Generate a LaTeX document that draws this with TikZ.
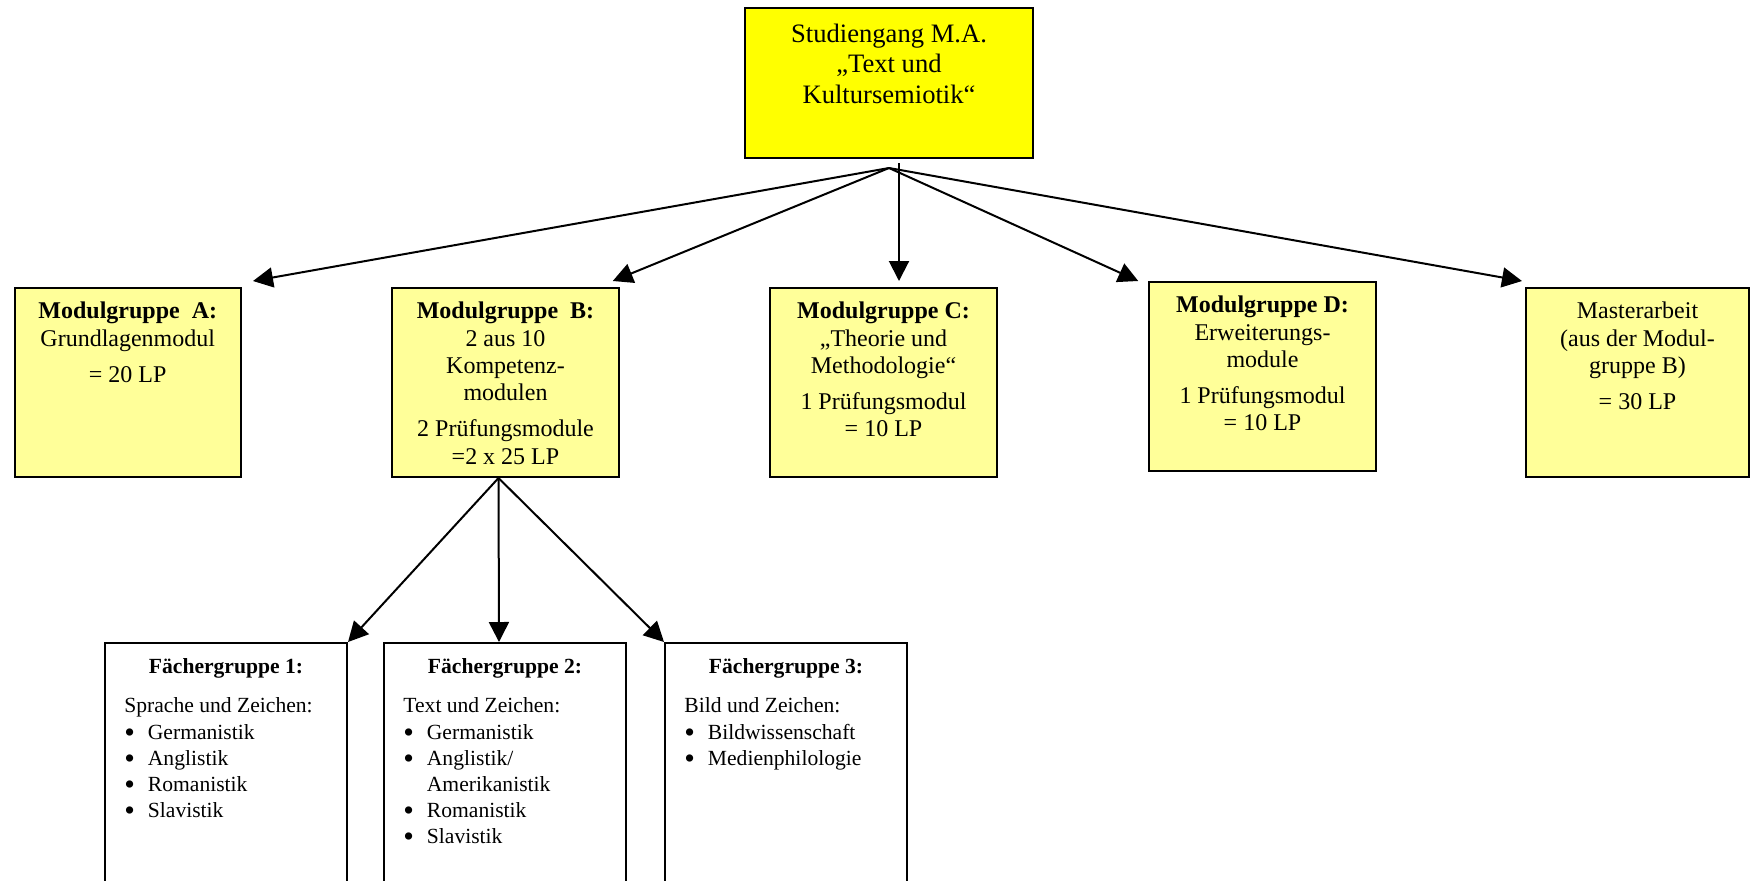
\documentclass[tikz,border=0pt]{standalone}
\usepackage{fontspec}
\setmainfont{Liberation Serif}
\usepackage{tikz}
\usetikzlibrary{arrows.meta,calc}
\definecolor{TopYellow}{HTML}{FFFF00}
\definecolor{ModYellow}{HTML}{FFFF99}
\newcommand{\fgbullet}{\makebox[11.75pt][l]{\raisebox{-0.14em}{\scalebox{1.4}{\textbullet}}}}
\newcommand{\fgindent}{\hspace*{11.75pt}}

\tikzset{
	box/.style={draw,line width=1pt,inner sep=0pt},
	modul/.style={box,fill=ModYellow,minimum width=113.25pt,minimum height=94.5pt},
	fach/.style={box,fill=white,minimum width=121pt,minimum height=150pt,anchor=north},
	txt/.style={anchor=north,align=center,inner sep=0pt,font=\fontsize{12}{13.65}\selectfont,
		execute at begin node={\rule{0pt}{9pt}}},
	smalltxt/.style={anchor=base,align=center,inner sep=0pt,font=\fontsize{10.8}{13.1}\selectfont},
	liste/.style={anchor=north west,align=left,inner sep=0pt,font=\fontsize{10.8}{13.1}\selectfont,
		execute at begin node={\rule{0pt}{9pt}}},
	pfeil/.style={-{Triangle[length=10pt,width=10pt]},line width=1pt}
}

\begin{document}
\begin{tikzpicture}[x=0.5pt,y=-0.5pt]
	\useasboundingbox (0,0) rectangle (1751,880);
	\clip (0,0) rectangle (1751,880);
	\node[box,fill=TopYellow,minimum width=144pt,minimum height=75pt] (S) at (889,83) {};
	\node[modul] (A) at (127.75,382.5) {};
	\node[modul] (B) at (505.5,382.5) {};
	\node[modul] (C) at (883.5,382.5) {};
	\node[modul] (D) at (1262.5,376.5) {};
	\node[modul,minimum width=111.5pt] (M) at (1637.5,382.5) {};
	\node[fach] (F1) at (226,642) {};
	\node[fach] (F2) at (505,642) {};
	\node[fach] (F3) at (786,642) {};

	\node[txt,font=\fontsize{13.3}{15.25}\selectfont] (S-t) at ($(S.north)+(0,16.5)$) {Studiengang M.A.\\„Text und\\Kultursemiotik“};
	\node[txt] (A-t) at ($(A.north)+(0,14.7)$) {\textbf{Modulgruppe\ \ A:}\\Grundlagenmodul\\[4.5pt]= 20 LP};
	\node[txt] (B-t) at ($(B.north)+(0,14.7)$) {\textbf{Modulgruppe\ \ B:}\\2 aus 10\\Kompetenz-\\modulen\\[4.5pt]2 Prüfungsmodule\\=2 x 25 LP};
	\node[txt] (C-t) at ($(C.north)+(0,14.7)$) {\textbf{Modulgruppe C:}\\„Theorie und\\Methodologie“\\[4.5pt]1 Prüfungsmodul\\= 10 LP};
	\node[txt] (D-t) at ($(D.north)+(0,14.7)$) {\textbf{Modulgruppe D:}\\Erweiterungs-\\module\\[4.5pt]1 Prüfungsmodul\\= 10 LP};
	\node[txt] (M-t) at ($(M.north)+(0,14.7)$) {Masterarbeit\\(aus der Modul-\\gruppe B)\\[4.5pt]= 30 LP};

	\node[smalltxt] (F1-t) at ($(F1.north)+(0,31)$) {\textbf{Fächergruppe 1:}};
	\node[liste] (F1-l) at ($(F1.north west)+(20,55.5)$) {Sprache und Zeichen:\\\fgbullet Germanistik\\\fgbullet Anglistik\\\fgbullet Romanistik\\\fgbullet Slavistik};
	\node[smalltxt] (F2-t) at ($(F2.north)+(0,31)$) {\textbf{Fächergruppe 2:}};
	\node[liste] (F2-l) at ($(F2.north west)+(20,55.5)$) {Text und Zeichen:\\\fgbullet Germanistik\\\fgbullet Anglistik/\\\fgindent Amerikanistik\\\fgbullet Romanistik\\\fgbullet Slavistik};
	\node[smalltxt] (F3-t) at ($(F3.north)+(0,31)$) {\textbf{Fächergruppe 3:}};
	\node[liste] (F3-l) at ($(F3.north west)+(20,55.5)$) {Bild und Zeichen:\\\fgbullet Bildwissenschaft\\\fgbullet Medienphilologie};

	\coordinate (hub) at ($(S.south)+(0,9)$);
	\coordinate (hubB) at ($(B.south)+(-7,0)$);
	\path[pfeil]
	(hub) edge ($(A.north east)+(11,-6)$)
	(hub) edge ($(B.north east)+(-7,-6)$)
	($(S.south)+(10,4)$) edge ($(C.north)+(15.5,-6)$)
	(hub) edge ($(D.north west)+(-10,0)$)
	(hub) edge ($(M.north west)+(-3,-6)$)
	(hubB) edge (F1.north east)
	(hubB) edge ($(F2.north)+(-6,0)$)
	(hubB) edge (F3.north west)
	;
\end{tikzpicture}
\end{document}
